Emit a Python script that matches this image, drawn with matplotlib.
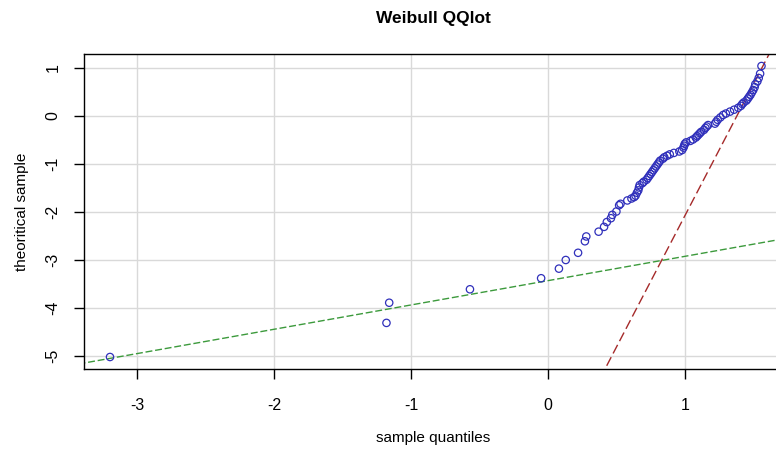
import numpy as np
import matplotlib.pyplot as plt

plt.rcParams['font.family'] = ['Liberation Sans', 'DejaVu Sans']
plt.rcParams['axes.unicode_minus'] = False

# sample quantiles (x) vs theoretical sample (y)
sample_q = [-3.20, -1.18, -1.16, -0.57, -0.05, 0.08, 0.13, 0.22, 0.27, 0.28,
            0.37, 0.41, 0.43, 0.46, 0.47, 0.50, 0.52, 0.53, 0.58, 0.61,
            0.63, 0.64, 0.65, 0.66, 0.665, 0.67, 0.69, 0.70, 0.72, 0.73,
            0.74, 0.75, 0.76, 0.77, 0.78, 0.79, 0.80, 0.81, 0.82, 0.84,
            0.85, 0.87, 0.89, 0.92, 0.96, 0.98, 0.99, 0.995, 1.00, 1.01,
            1.04, 1.06, 1.08, 1.09, 1.10, 1.11, 1.12, 1.14, 1.15, 1.16,
            1.17, 1.22, 1.23, 1.24, 1.26, 1.28, 1.30, 1.33, 1.36, 1.39,
            1.41, 1.42, 1.43, 1.45, 1.46, 1.47, 1.48, 1.49, 1.50, 1.51,
            1.515, 1.53, 1.54, 1.55, 1.56]
theo_q = [-5.02, -4.31, -3.89, -3.61, -3.38, -3.18, -3.00, -2.85, -2.61, -2.51,
          -2.41, -2.31, -2.21, -2.13, -2.06, -1.99, -1.86, -1.83, -1.76, -1.72,
          -1.69, -1.66, -1.60, -1.55, -1.49, -1.44, -1.40, -1.37, -1.33, -1.29,
          -1.25, -1.21, -1.17, -1.13, -1.09, -1.05, -1.01, -0.97, -0.93, -0.89,
          -0.86, -0.83, -0.80, -0.77, -0.74, -0.71, -0.66, -0.62, -0.58, -0.55,
          -0.52, -0.49, -0.45, -0.42, -0.39, -0.36, -0.33, -0.29, -0.25, -0.22,
          -0.19, -0.16, -0.12, -0.08, -0.03, 0.02, 0.05, 0.09, 0.13, 0.17,
          0.21, 0.25, 0.28, 0.32, 0.36, 0.40, 0.44, 0.49, 0.54, 0.60,
          0.66, 0.72, 0.79, 0.88, 1.04]

# reference lines (intercept, slope)
green_line = (-3.43, 0.506)
red_line = (-7.55, 5.47)

fig = plt.figure(figsize=(7.76, 4.51), dpi=100)
ax = fig.add_axes([84 / 776, (451 - 369) / 451, (782 - 84) / 776, (369 - 54) / 451])

ax.set_xlim(-3.39, 1.71)
ax.set_ylim(-5.27, 1.29)
ax.set_xticks([-3, -2, -1, 0, 1])
ax.set_yticks([-5, -4, -3, -2, -1, 0, 1])
ax.grid(True, color='#d9d9d9', linewidth=1)
ax.set_axisbelow(True)

xs = np.array([-3.5, 1.8])
ax.plot(xs, green_line[0] + green_line[1] * xs, color='#3c9a3c', lw=1,
        ls=(0, (5, 2)))
ax.plot(xs, red_line[0] + red_line[1] * xs, color='#a52a2a', lw=1,
        ls=(0, (7, 3)))

ax.scatter(sample_q, theo_q, s=28, facecolors='none', edgecolors='#3030bb',
           linewidths=0.9, zorder=3)

for s in ['left', 'top', 'bottom', 'right']:
    ax.spines[s].set_linewidth(1)
    ax.spines[s].set_color('black')

ax.tick_params(axis='both', direction='out', length=7, width=1,
               labelsize=11.5)
ax.tick_params(axis='x', pad=14)
ax.tick_params(axis='y', pad=10, labelrotation=90)
for lbl in ax.get_yticklabels():
    lbl.set_va('center')

ax.set_xlabel('sample quantiles', fontsize=11, labelpad=13)
ax.set_ylabel('theoritical sample', fontsize=11, labelpad=12)
fig.text(433 / 776, 1 - 18 / 451, 'Weibull QQlot', ha='center', va='center',
         fontsize=12.5, fontweight='bold')

fig.savefig('out.png', dpi=100)
